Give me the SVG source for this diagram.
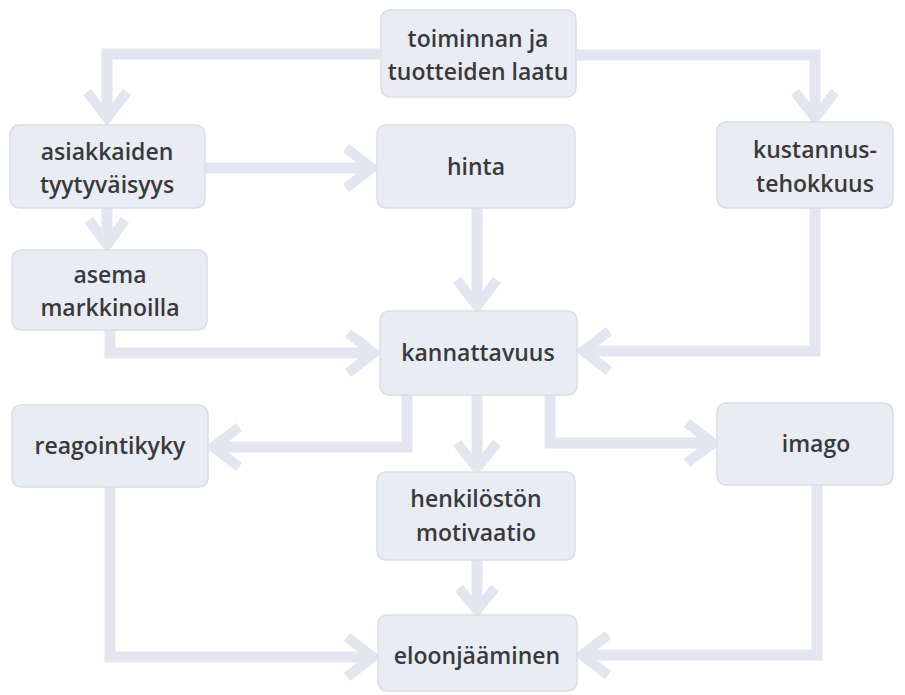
<svg xmlns="http://www.w3.org/2000/svg" width="905" height="695" viewBox="0 0 905 695">
<style>
.n{fill:#e9ecf2;stroke:#dadee6;stroke-width:1.5}
.t{font-family:"Open Sans","Liberation Sans",sans-serif;font-size:23px;font-weight:600;fill:#3a3a3c;text-anchor:middle}
.c{fill:none;stroke:#e3e6ee;stroke-width:11;stroke-linejoin:miter}
.h{fill:none;stroke:#e3e6ee;stroke-width:10;stroke-linejoin:miter;stroke-linecap:butt}
</style>
<rect width="905" height="695" fill="#ffffff"/>
<g id="connectors">
<path class="c" d="M380,54 H107 V116"/>
<polyline class="h" points="87,92 107,118 127,92"/>
<path class="c" d="M577,55 H815 V116"/>
<polyline class="h" points="795,92 815,118 835,92"/>
<path class="c" d="M205,168 H370"/>
<polyline class="h" points="346,148 372,168 346,188"/>
<path class="c" d="M107,208 V244"/>
<polyline class="h" points="89,220 107,245 125,220"/>
<path class="c" d="M110,330 V353 H372"/>
<polyline class="h" points="348,333 374,353 348,373"/>
<path class="c" d="M477,208 V304"/>
<polyline class="h" points="457,280 477,306 497,280"/>
<path class="c" d="M815,208 V351 H585"/>
<polyline class="h" points="609,331 583,351 609,371"/>
<path class="c" d="M407,395 V447 H215"/>
<polyline class="h" points="239,427 213,447 239,467"/>
<path class="c" d="M477,395 V466"/>
<polyline class="h" points="457,443 477,468 497,443"/>
<path class="c" d="M550,395 V443 H711"/>
<polyline class="h" points="687,423 713,443 687,463"/>
<path class="c" d="M110,487 V657 H371"/>
<polyline class="h" points="347,637 373,657 347,677"/>
<path class="c" d="M477,560 V608"/>
<polyline class="h" points="459,588 477,610 495,588"/>
<path class="c" d="M817,485 V655 H584"/>
<polyline class="h" points="608,635 582,655 608,675"/>
</g>
<g id="laatu"><rect class="n" x="381" y="10" width="195" height="87" rx="9"/><text class="t" x="478" y="47">toiminnan ja</text><text class="t" x="478" y="80">tuotteiden laatu</text></g>
<g id="asiakkaiden"><rect class="n" x="10" y="125" width="195" height="83" rx="9"/><text class="t" x="107" y="160">asiakkaiden</text><text class="t" x="107" y="193">tyytyväisyys</text></g>
<g id="hinta"><rect class="n" x="377" y="125" width="198" height="83" rx="9"/><text class="t" x="476" y="175">hinta</text></g>
<g id="kustannus"><rect class="n" x="717" y="122" width="176" height="86" rx="9"/><text class="t" x="815" y="158">kustannus-</text><text class="t" x="815" y="192">tehokkuus</text></g>
<g id="asema"><rect class="n" x="12" y="250" width="195" height="80" rx="9"/><text class="t" x="110" y="283">asema</text><text class="t" x="110" y="316">markkinoilla</text></g>
<g id="kannattavuus"><rect class="n" x="380" y="311" width="197" height="84" rx="9"/><text class="t" x="478" y="361">kannattavuus</text></g>
<g id="reagointikyky"><rect class="n" x="12" y="405" width="196" height="82" rx="9"/><text class="t" x="110" y="454">reagointikyky</text></g>
<g id="imago"><rect class="n" x="717" y="403" width="176" height="82" rx="9"/><text class="t" x="816" y="452">imago</text></g>
<g id="henkiloston"><rect class="n" x="377" y="472" width="198" height="88" rx="9"/><text class="t" x="476" y="507">henkilöstön</text><text class="t" x="476" y="541">motivaatio</text></g>
<g id="eloonjaaminen"><rect class="n" x="378" y="615" width="199" height="76" rx="9"/><text class="t" x="477" y="664">eloonjääminen</text></g>
</svg>
